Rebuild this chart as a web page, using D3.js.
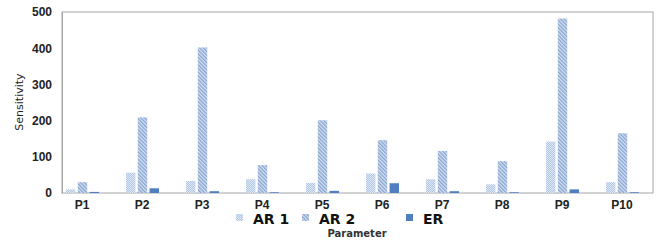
<!DOCTYPE html>
<html>
<head>
<meta charset="utf-8">
<script src="https://cdn.jsdelivr.net/npm/d3@7"></script>
<style>
  body { margin: 0; background: #fff; }
  svg { display: block; font-family: "DejaVu Sans", Verdana, sans-serif; }
</style>
</head>
<body>
<svg id="chart" width="658" height="244"></svg>
<script>
// data
var params = ["P1","P2","P3","P4","P5","P6","P7","P8","P9","P10"];
var ar1 = [10, 56, 33, 38, 28, 54, 38, 24, 142, 30];
var ar2 = [30, 209, 402, 77, 201, 146, 116, 88, 482, 165];
var er  = [3, 13, 5, 2, 6, 27, 5, 2, 10, 2];
var seriesNames = ["AR 1", "AR 2", "ER"];
var yTicks = [0, 100, 200, 300, 400, 500];

var svg = d3.select("#chart");
var plotL = 62, plotR = 653, plotT = 12, plotB = 193;

// patterns
var defs = svg.append("defs");
var p1 = defs.append("pattern").attr("id","dots")
  .attr("width",2).attr("height",2).attr("patternUnits","userSpaceOnUse");
p1.append("rect").attr("width",2).attr("height",2).attr("fill","#b4c8e4");
p1.append("rect").attr("width",1).attr("height",1).attr("fill","#dde7f3");
p1.append("rect").attr("x",1).attr("y",1).attr("width",1).attr("height",1).attr("fill","#dde7f3");

var p2 = defs.append("pattern").attr("id","hatch")
  .attr("width",2.6).attr("height",2.6).attr("patternUnits","userSpaceOnUse")
  .attr("patternTransform","rotate(-45)");
p2.append("rect").attr("width",2.6).attr("height",2.6).attr("fill","#d6e1f1");
p2.append("rect").attr("width",1.3).attr("height",2.6).attr("fill","#86a4d1");

var fills = ["url(#dots)", "url(#hatch)", "#4f7fbf"];

var x = d3.scaleBand().domain(params).range([52, 652]);
var xs = d3.scaleBand().domain([0,1,2]).range([14, 47]).paddingInner(0.2);
var y = d3.scaleLinear().domain([0, 500]).range([plotB, plotT]);

// frame
svg.append("rect").attr("x", plotL).attr("y", plotT)
  .attr("width", plotR - plotL).attr("height", plotB - plotT)
  .attr("fill", "none").attr("stroke", "#a6a6a6").attr("stroke-width", 1);

// bars
var allSeries = [ar1, ar2, er];
allSeries.forEach(function(vals, si){
  svg.append("g").selectAll("rect")
    .data(vals)
    .join("rect")
    .attr("x", function(d, i){ return x(params[i]) + xs(si); })
    .attr("y", function(d){ return y(d); })
    .attr("width", xs.bandwidth())
    .attr("height", function(d){ return plotB - y(d); })
    .attr("fill", fills[si]);
});

// axes
var yAxis = d3.axisLeft(y).tickValues(yTicks).tickSize(0).tickPadding(10);
var gy = svg.append("g").attr("transform", "translate(" + plotL + ",0)").call(yAxis);
gy.select(".domain").attr("stroke", "#a6a6a6");
gy.selectAll("text").attr("font-size", 12).attr("font-weight", "bold").attr("fill", "#222");

var xAxis = d3.axisBottom(x).tickSize(0).tickPadding(7);
var gx = svg.append("g").attr("transform", "translate(0," + plotB + ")").call(xAxis);
gx.select(".domain").remove();
gx.selectAll("text").attr("font-size", 12).attr("font-weight", "bold").attr("fill", "#222");

// axis titles
svg.append("text")
  .attr("transform", "translate(23,102) rotate(-90)")
  .attr("text-anchor", "middle")
  .attr("font-size", 11)
  .attr("fill", "#222")
  .text("Sensitivity");

svg.append("text")
  .attr("x", 357).attr("y", 237)
  .attr("text-anchor", "middle")
  .attr("font-size", 10).attr("font-weight", "bold")
  .attr("fill", "#333")
  .text("Parameter");

// legend
var legX = [236, 302, 406];
var leg = svg.append("g");
seriesNames.forEach(function(name, i){
  leg.append("rect").attr("x", legX[i]).attr("y", 214)
    .attr("width", 7).attr("height", 7).attr("fill", fills[i]);
  leg.append("text").attr("x", legX[i] + 17).attr("y", 224)
    .attr("font-size", 14).attr("font-weight", "bold").attr("fill", "#111")
    .text(name);
});
</script>
</body>
</html>
